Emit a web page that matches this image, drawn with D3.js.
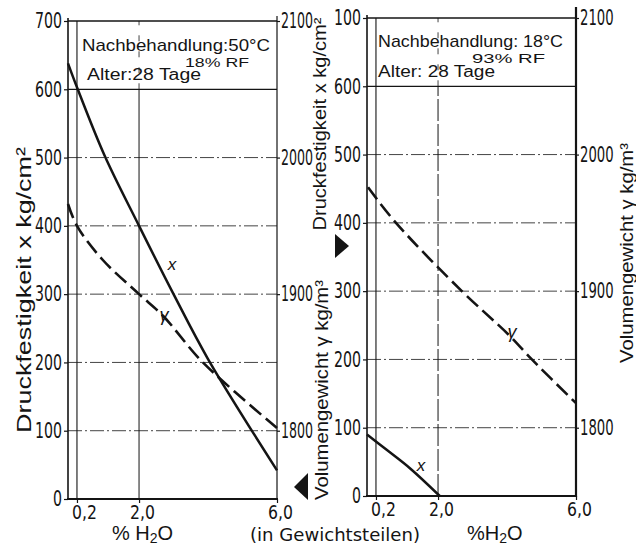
<!DOCTYPE html>
<html>
<head>
<meta charset="utf-8">
<script src="https://cdn.jsdelivr.net/npm/d3@7/dist/d3.min.js"></script>
<style>
  html, body { margin: 0; padding: 0; background: #fff; }
  svg { display: block; }
</style>
</head>
<body>
<svg id="chart" width="636" height="546"></svg>
<script>
// ---- data -------------------------------------------------------------
// water content, % H2O (by weight)
const xTicks = [0.2, 2.0, 6.0];
const xTickLabels = ["0,2", "2,0", "6,0"];

// compressive strength axis (kg/cm²)
const strengthTicks = [0, 100, 200, 300, 400, 500, 600, 700];
const strengthLabelsA = ["0", "100", "200", "300", "400", "500", "600", "700"];
const strengthLabelsB = ["0", "100", "200", "300", "400", "500", "600", "100"];

// bulk density axis (kg/m³)
const densityTicks = [1800, 1900, 2000, 2100];
const densityLabels = ["1800", "1900", "2000", "2100"];

// curing 50 °C / 18 % RF
const strengthA_x = [-0.06, 0.2, 1.0, 2.0, 3.0, 4.0, 6.0];
const strengthA   = [638, 603, 503, 400, 300, 205, 42];
const densityA_x  = [-0.06, 0.2, 0.95, 2.0, 2.7, 3.85, 6.0];
const densityA    = [1966, 1950, 1925, 1900, 1884, 1850, 1802];

// curing 18 °C / 93 % RF
const strengthB_x = [-0.06, 0.5, 1.2, 2.05];
const strengthB   = [90, 68, 40, 0];
const densityB_x  = [-0.03, 0.78, 2.69, 4.05, 4.72, 6.0];
const densityB    = [1976, 1950, 1900, 1868, 1850, 1818];

const headerA = ["Nachbehandlung:50°C", "18% RF", "Alter:28 Tage"];
const headerB = ["Nachbehandlung: 18°C", "93% RF", "Alter: 28 Tage"];

// ---- drawing ----------------------------------------------------------
const svg = d3.select("#chart");
const INK = "#141414";
const NARROW = "'Liberation Sans Narrow','DejaVu Sans Condensed','Liberation Sans',sans-serif";
const SANS = "'Liberation Sans','DejaVu Sans',sans-serif";

function zip(xs, ys) { return xs.map((x, i) => [x, ys[i]]); }

// condensed look for numeric labels: fixed advance per character
function condense(sel, perChar) {
  sel.each(function () {
    const n = this.textContent.length;
    d3.select(this).attr("textLength", n * perChar).attr("lengthAdjust", "spacingAndGlyphs");
  });
}

function drawPanel(p) {
  const g = svg.append("g");
  const x = d3.scaleLinear().domain([-0.06, 6.0]).range([p.left, p.right]);
  const y = d3.scaleLinear().domain([0, 700]).range([p.bottom, p.top]);
  const yd = d3.scaleLinear().domain([1750, 2100]).range([p.bottom, p.top]);

  // horizontal grid (dash-dot) for 100..500
  g.selectAll(".hgrid").data(strengthTicks.filter(t => t > 0 && t < 600))
    .join("line")
    .attr("x1", p.left).attr("x2", p.right)
    .attr("y1", d => y(d)).attr("y2", d => y(d))
    .attr("stroke", INK).attr("stroke-width", 0.8)
    .attr("stroke-dasharray", "14,3,2,3");

  // header frame lines: 600 and top
  [600, 700].forEach(v => {
    g.append("line")
      .attr("x1", p.left).attr("x2", p.right)
      .attr("y1", y(v)).attr("y2", y(v))
      .attr("stroke", INK).attr("stroke-width", v === 700 ? 1.6 : 1.3);
  });

  // vertical line at 0,2 (full height)
  g.append("line")
    .attr("x1", x(0.2)).attr("x2", x(0.2))
    .attr("y1", p.bottom).attr("y2", p.top)
    .attr("stroke", INK).attr("stroke-width", 1.1);
  // vertical line at 2,0
  g.append("line")
    .attr("x1", x(2.0)).attr("x2", x(2.0))
    .attr("y1", p.bottom).attr("y2", y(600))
    .attr("stroke", INK).attr("stroke-width", 1)
    .attr("stroke-dasharray", p.dashedTwo ? "22,3" : null);
  g.append("line")
    .attr("x1", x(2.0)).attr("x2", x(2.0))
    .attr("y1", y(600)).attr("y2", p.top)
    .attr("stroke", INK).attr("stroke-width", 0.8)
    .attr("stroke-dasharray", "6,10");

  // axis lines
  g.append("line").attr("x1", p.left).attr("x2", p.left)
    .attr("y1", p.bottom + 1).attr("y2", p.top - 3)
    .attr("stroke", INK).attr("stroke-width", 1.6);
  g.append("line").attr("x1", p.right).attr("x2", p.right)
    .attr("y1", p.bottom + 1).attr("y2", p.top - p.rightExtra)
    .attr("stroke", INK).attr("stroke-width", p.rightWidth);
  g.append("line").attr("x1", p.left - 1).attr("x2", p.right + 1)
    .attr("y1", p.bottom).attr("y2", p.bottom)
    .attr("stroke", INK).attr("stroke-width", 2);

  // left axis: compressive strength
  const axL = d3.axisLeft(y).tickValues(strengthTicks)
    .tickFormat((d, i) => p.strengthLabels[i]).tickSize(4).tickPadding(2).tickSizeOuter(0);
  const gl = g.append("g").attr("transform", `translate(${p.left},0)`).call(axL);
  gl.select(".domain").remove();
  gl.selectAll("line").attr("stroke", INK).attr("stroke-width", 1.2);
  gl.selectAll("text").attr("fill", INK).style("font-family", NARROW).style("font-size", "21px")
    .call(condense, 9.0);

  // right axis: bulk density
  const axR = d3.axisRight(yd).tickValues(densityTicks)
    .tickFormat((d, i) => densityLabels[i]).tickSize(3).tickPadding(1).tickSizeOuter(0);
  const gr = g.append("g").attr("transform", `translate(${p.right},0)`).call(axR);
  gr.select(".domain").remove();
  gr.selectAll("line").attr("stroke", INK).attr("stroke-width", 1.2);
  gr.selectAll("text").attr("fill", INK).style("font-family", NARROW).style("font-size", "21px")
    .call(condense, p.densityChar);

  // bottom axis: % H2O
  const axB = d3.axisBottom(x).tickValues(xTicks)
    .tickFormat((d, i) => xTickLabels[i]).tickSize(4).tickPadding(2).tickSizeOuter(0);
  const gb = g.append("g").attr("transform", `translate(0,${p.bottom})`).call(axB);
  gb.select(".domain").remove();
  gb.selectAll("line").attr("stroke", INK).attr("stroke-width", 1.2);
  gb.selectAll("text").attr("fill", INK).style("font-family", NARROW).style("font-size", "20px")
    .attr("dx", (d, i) => i === 0 ? 7 : 3)
    .call(condense, 8.3);

  // curves
  const lineS = d3.line().x(d => x(d[0])).y(d => y(d[1])).curve(d3.curveCatmullRom.alpha(0.5));
  const lineD = d3.line().x(d => x(d[0])).y(d => yd(d[1])).curve(d3.curveCatmullRom.alpha(0.5));
  g.append("path").datum(zip(p.sx, p.sy)).attr("d", lineS)
    .attr("fill", "none").attr("stroke", INK).attr("stroke-width", 2.5);
  g.append("path").datum(zip(p.dx, p.dy)).attr("d", lineD)
    .attr("fill", "none").attr("stroke", INK).attr("stroke-width", 2.6)
    .attr("stroke-dasharray", "15,6");

  // curve labels
  g.append("text").attr("x", p.xLab[0]).attr("y", p.xLab[1])
    .attr("text-anchor", "middle").attr("fill", INK)
    .style("font-family", SANS).style("font-style", "italic").style("font-size", "17px")
    .text("x");
  g.append("text").attr("x", p.gLab[0]).attr("y", p.gLab[1])
    .attr("text-anchor", "middle").attr("fill", INK)
    .style("font-family", SANS).style("font-style", "italic").style("font-size", "18px")
    .text("γ");

  // header text
  g.append("text").attr("x", p.h[0][0]).attr("y", p.h[0][1]).attr("fill", INK)
    .attr("textLength", p.h[0][2]).attr("lengthAdjust", "spacingAndGlyphs")
    .style("font-family", SANS).style("font-size", "17px").text(p.header[0]);
  g.append("text").attr("x", p.h[1][0]).attr("y", p.h[1][1]).attr("fill", INK)
    .attr("textLength", p.h[1][2]).attr("lengthAdjust", "spacingAndGlyphs")
    .style("font-family", SANS).style("font-size", "13px").text(p.header[1]);
  g.append("text").attr("x", p.h[2][0]).attr("y", p.h[2][1]).attr("fill", INK)
    .attr("textLength", p.h[2][2]).attr("lengthAdjust", "spacingAndGlyphs")
    .style("font-family", SANS).style("font-size", "16px").text(p.header[2]);
}

drawPanel({
  left: 68, right: 277, top: 21, bottom: 499,
  rightWidth: 1.2, rightExtra: 5, dashedTwo: false, densityChar: 8.0,
  strengthLabels: strengthLabelsA,
  sx: strengthA_x, sy: strengthA, dx: densityA_x, dy: densityA,
  xLab: [172, 270], gLab: [164, 321],
  header: headerA,
  h: [[82, 51, 188], [185, 67, 64], [87, 80, 114]]
});

drawPanel({
  left: 367, right: 576, top: 18, bottom: 496,
  rightWidth: 2.2, rightExtra: 11, dashedTwo: true, densityChar: 8.4,
  strengthLabels: strengthLabelsB,
  sx: strengthB_x, sy: strengthB, dx: densityB_x, dy: densityB,
  xLab: [421, 471], gLab: [512, 338],
  header: headerB,
  h: [[378, 47, 185], [472, 63, 73], [378, 77, 117]]
});

// rotated axis titles
function vText(cx, cy, len, size, str) {
  svg.append("text")
    .attr("transform", `translate(${cx},${cy}) rotate(-90)`)
    .attr("text-anchor", "middle").attr("fill", INK)
    .attr("textLength", len).attr("lengthAdjust", "spacingAndGlyphs")
    .style("font-family", SANS).style("font-size", size + "px")
    .text(str);
}
vText(31, 290, 286, 20, "Druckfestigkeit x kg/cm²");
vText(326, 124, 213, 18, "Druckfestigkeit x kg/cm²");
vText(328, 390, 220, 18, "Volumengewicht γ kg/m³");
vText(633, 253, 220, 18, "Volumengewicht γ kg/m³");

// axis pointers
svg.append("path").attr("d", "M335,234 L335,258 L349,246 Z").attr("fill", INK);
svg.append("path").attr("d", "M308,473 L308,500 L294,487 Z").attr("fill", INK);

// x-axis titles
svg.append("text").attr("x", 112).attr("y", 540).attr("fill", INK)
  .style("font-family", SANS).style("font-size", "20px")
  .html('% H<tspan dy="3" font-size="14">2</tspan><tspan dy="-3">O</tspan>');
svg.append("text").attr("x", 250).attr("y", 541).attr("fill", INK)
  .attr("textLength", 170).attr("lengthAdjust", "spacingAndGlyphs")
  .style("font-family", NARROW).style("font-size", "18px")
  .text("(in Gewichtsteilen)");
svg.append("text").attr("x", 467).attr("y", 540).attr("fill", INK)
  .style("font-family", SANS).style("font-size", "20px")
  .html('%H<tspan dy="3" font-size="14">2</tspan><tspan dy="-3">O</tspan>');
</script>
</body>
</html>
